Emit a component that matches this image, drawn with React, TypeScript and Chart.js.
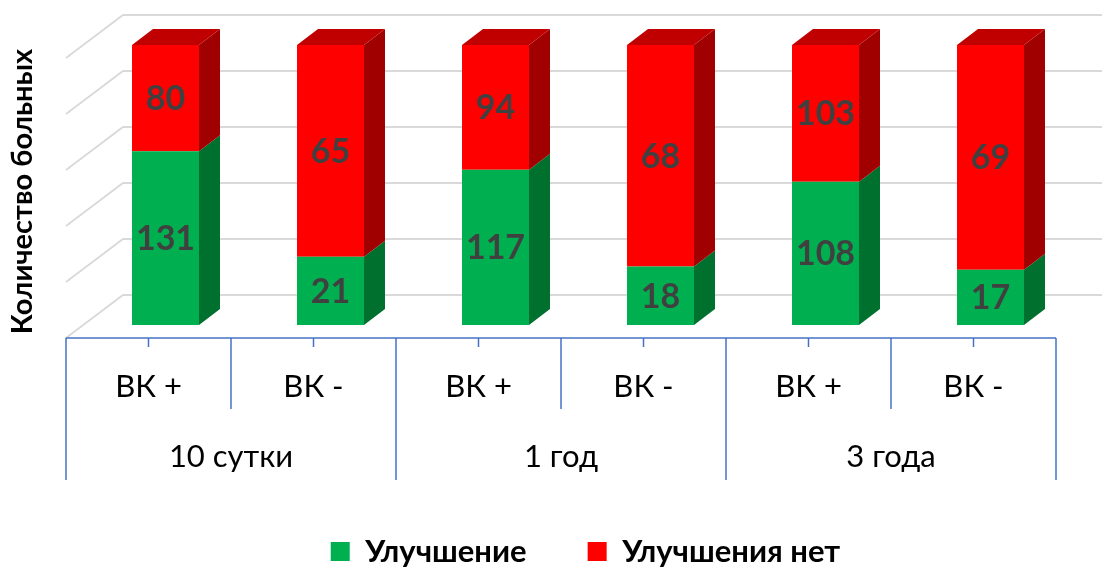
import { useEffect, useRef } from 'react';
import { Chart, registerables } from 'chart.js';

Chart.register(...registerables);

// Follow-up periods (outer axis level) and patient subgroups (inner level)
const periods = ['10 сутки', '1 год', '3 года'];
const subgroups = ['ВК +', 'ВК -', 'ВК +', 'ВК -', 'ВК +', 'ВК -'];

// Patient counts per subgroup
const improved = [131, 21, 117, 18, 108, 17];
const notImproved = [80, 65, 94, 68, 103, 69];

const seriesNames = ['Улучшение', 'Улучшения нет'];
const gridValues = [0, 20, 40, 60, 80, 100];

// Each column is shown as 100% stacked
const totals = improved.map((v, i) => v + notImproved[i]);
const improvedShare = improved.map((v, i) => (v / totals[i]) * 100);
const notImprovedShare = notImproved.map((v, i) => (v / totals[i]) * 100);
const counts = [improved, notImproved];

// Pseudo-3D geometry (px): bar depth, offset to the back wall, offset to the floor's front edge
const BAR_DX = 21;
const BAR_DY = 16;
const WALL_DX = 40;
const WALL_DY = 30;
const FRONT_DX = 17;
const FRONT_DY = 13;

const sideColors = ['#00702f', '#a00000'];
const topColors = ['#00702f', '#c00000'];

const FONT = 'Lato, "Open Sans", sans-serif';

const depthPlugin = {
  id: 'depth3d',
  afterLayout(chart: any) {
    // legend sits centred under the plot, slightly lower than the default slot
    const lg = chart.legend;
    if (lg) {
      lg.left += 49;
      lg.right += 49;
      lg.top += 2;
      lg.bottom += 2;
    }
  },
  beforeDatasetsDraw(chart: any) {
    const { ctx, chartArea, scales } = chart;
    const y = scales.y;
    ctx.save();
    ctx.strokeStyle = '#d9d9d9';
    ctx.lineWidth = 1.8;
    const backLeft = chartArea.left + WALL_DX;
    const frontLeft = chartArea.left - FRONT_DX;
    gridValues.forEach((v) => {
      const py = y.getPixelForValue(v);
      ctx.beginPath();
      ctx.moveTo(frontLeft, py + FRONT_DY);
      ctx.lineTo(backLeft, py - WALL_DY);
      ctx.lineTo(chartArea.right + WALL_DX, py - WALL_DY);
      ctx.stroke();
    });
    ctx.restore();
  },
  afterDatasetsDraw(chart: any) {
    const { ctx } = chart;
    const n = chart.data.datasets.length;
    ctx.save();
    for (let d = 0; d < n; d++) {
      const meta = chart.getDatasetMeta(d);
      meta.data.forEach((el: any) => {
        const { x, y, base, width } = el.getProps(['x', 'y', 'base', 'width'], true);
        const left = x - width / 2;
        const right = x + width / 2;
        const top = Math.min(y, base);
        const bottom = Math.max(y, base);
        ctx.fillStyle = sideColors[d];
        ctx.beginPath();
        ctx.moveTo(right, top);
        ctx.lineTo(right + BAR_DX, top - BAR_DY);
        ctx.lineTo(right + BAR_DX, bottom - BAR_DY);
        ctx.lineTo(right, bottom);
        ctx.closePath();
        ctx.fill();
        if (d === n - 1) {
          ctx.fillStyle = topColors[d];
          ctx.beginPath();
          ctx.moveTo(left, top);
          ctx.lineTo(left + BAR_DX, top - BAR_DY);
          ctx.lineTo(right + BAR_DX, top - BAR_DY);
          ctx.lineTo(right, top);
          ctx.closePath();
          ctx.fill();
        }
      });
    }
    // value labels on the front faces
    ctx.fillStyle = '#404040';
    ctx.font = `bold 34px ${FONT}`;
    ctx.textAlign = 'center';
    ctx.textBaseline = 'middle';
    for (let d = 0; d < n; d++) {
      const meta = chart.getDatasetMeta(d);
      meta.data.forEach((el: any, i: number) => {
        const { x, y, base } = el.getProps(['x', 'y', 'base'], true);
        ctx.fillText(String(counts[d][i]), x, (y + base) / 2 + 1);
      });
    }
    ctx.restore();
  },
  afterDraw(chart: any) {
    const { ctx, chartArea, scales } = chart;
    const x = scales.x;
    const x2 = scales.x2;
    const step = x.getPixelForValue(1) - x.getPixelForValue(0);
    const axisY = chartArea.bottom;
    ctx.save();
    ctx.strokeStyle = '#4472c4';
    ctx.lineWidth = 1.5;
    ctx.beginPath();
    ctx.moveTo(chartArea.left - FRONT_DX, axisY);
    ctx.lineTo(chartArea.right - FRONT_DX, axisY);
    ctx.stroke();
    subgroups.forEach((_, i) => {
      const px = x.getPixelForValue(i) - FRONT_DX;
      ctx.beginPath();
      ctx.moveTo(px, axisY);
      ctx.lineTo(px, axisY + 9);
      ctx.stroke();
    });
    for (let b = 0; b <= subgroups.length; b++) {
      const px = x.getPixelForValue(0) - step / 2 + b * step - FRONT_DX;
      const end = b % 2 === 0 ? x2.bottom + 7 : x.bottom;
      ctx.beginPath();
      ctx.moveTo(px, axisY);
      ctx.lineTo(px, end);
      ctx.stroke();
    }
    ctx.restore();
  },
};

export default function App() {
  const ref = useRef<HTMLCanvasElement | null>(null);

  useEffect(() => {
    if (!ref.current) return;
    const chart = new Chart(ref.current, {
      type: 'bar',
      data: {
        labels: subgroups,
        datasets: [
          {
            label: seriesNames[0],
            data: improvedShare,
            backgroundColor: '#00b050',
            barPercentage: 0.406,
            categoryPercentage: 1,
          },
          {
            label: seriesNames[1],
            data: notImprovedShare,
            backgroundColor: '#ff0000',
            barPercentage: 0.406,
            categoryPercentage: 1,
          },
        ],
      },
      options: {
        animation: false,
        responsive: false,
        devicePixelRatio: 1,
        layout: { padding: { top: 45, right: 29, left: 0, bottom: -8 } },
        scales: {
          x: {
            type: 'category',
            stacked: true,
            offset: true,
            grid: { display: false, drawTicks: false },
            border: { display: false },
            ticks: {
              labelOffset: -FRONT_DX,
              padding: 30,
              color: '#000',
              font: { family: FONT, size: 31 },
              maxRotation: 0,
              autoSkip: false,
            },
            afterFit: (s: any) => {
              s.height = 71;
            },
          },
          x2: {
            type: 'category',
            position: 'bottom',
            labels: periods,
            offset: true,
            grid: { display: false, drawTicks: false },
            border: { display: false },
            ticks: {
              labelOffset: -FRONT_DX,
              padding: 29,
              color: '#000',
              font: { family: FONT, size: 31 },
              maxRotation: 0,
              autoSkip: false,
            },
            afterFit: (s: any) => {
              s.height = 64;
            },
          },
          y: {
            stacked: true,
            min: -4.64,
            max: 100,
            ticks: { display: false },
            grid: { display: false },
            border: { display: false },
            title: {
              display: true,
              text: 'Количество больных',
              color: '#000',
              font: { family: FONT, size: 29, weight: 'bold' },
              padding: { top: 5, bottom: 0 },
            },
            afterFit: (s: any) => {
              s.width = 83;
            },
          },
        },
        plugins: {
          tooltip: { enabled: false },
          legend: {
            position: 'bottom',
            labels: {
              boxWidth: 19,
              boxHeight: 19,
              padding: 61,
              color: '#000',
              font: { family: FONT, size: 31, weight: 'bold' },
            },
          },
        },
      },
      plugins: [depthPlugin],
    } as any);
    return () => chart.destroy();
  }, []);

  return (
    <canvas
      ref={ref}
      width={1102}
      height={567}
      style={{ position: 'absolute', left: 0, top: 0 }}
    />
  );
}
